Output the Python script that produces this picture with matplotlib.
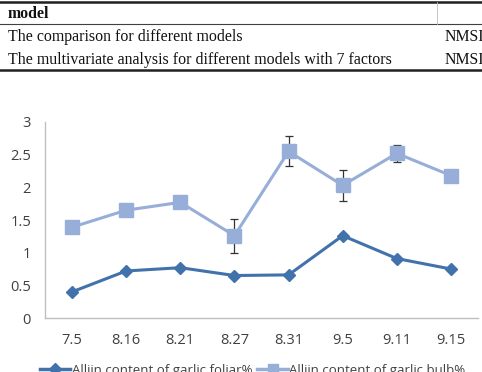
import matplotlib
matplotlib.use("Agg")
import matplotlib.pyplot as plt
from matplotlib.lines import Line2D

# Table text
table_header = "model"
table_rows = ["The comparison for different models",
              "The multivariate analysis for different models with 7 factors"]
table_right = ["NMSI", "NMSI"]

# Chart data
dates = ["7.5", "8.16", "8.21", "8.27", "8.31", "9.5", "9.11", "9.15"]
foliar = [0.40, 0.72, 0.77, 0.65, 0.66, 1.26, 0.91, 0.75]
bulb = [1.39, 1.65, 1.77, 1.26, 2.55, 2.03, 2.52, 2.18]
bulb_err = [0.0, 0.0, 0.0, 0.26, 0.23, 0.24, 0.13, 0.09]
yticks = [0, 0.5, 1, 1.5, 2, 2.5, 3]
ytick_labels = ["0", "0.5", "1", "1.5", "2", "2.5", "3"]
legend_labels = ["Alliin content of garlic foliar%", "Alliin content of garlic bulb%"]

W, H = 482, 372
fig = plt.figure(figsize=(W / 100, H / 100), dpi=100)

def fx(px):
    return px / W

def fy(py):
    return 1 - py / H

# ---- table fragment ----
serif = "Liberation Serif"
fs_t = 11.4
fig.add_artist(Line2D([0, 1], [fy(1.5), fy(1.5)], color="#202020", lw=1.8))
fig.add_artist(Line2D([0, 1], [fy(24), fy(24)], color="#404040", lw=0.8))
fig.add_artist(Line2D([0, 1], [fy(70), fy(70)], color="#202020", lw=1.8))
fig.add_artist(Line2D([fx(437), fx(437)], [fy(2), fy(24)], color="#bbbbbb", lw=0.6))
fig.text(fx(8), fy(14), table_header, family=serif, weight="bold", fontsize=fs_t,
         va="center", ha="left", color="#111111")
for i, t in enumerate(table_rows):
    yy = fy(37 + i * 23)
    fig.text(fx(8), yy, t, family=serif, fontsize=fs_t, va="center", ha="left", color="#111111")
    fig.text(fx(445), yy, table_right[i], family=serif, fontsize=fs_t, va="center", ha="left",
             color="#111111")

# ---- chart ----
ax = fig.add_axes([fx(45), fy(318), fx(478) - fx(45), fy(122) - fy(318)])
x = list(range(len(dates)))
c1 = "#4272AB"
c2 = "#97AFD8"
ax.plot(x, foliar, color=c1, lw=2.2, marker="D", markersize=6.5, markeredgecolor=c1,
        markerfacecolor=c1, zorder=3)
ax.errorbar(x, bulb, yerr=bulb_err, fmt="none", ecolor="#333333", elinewidth=0.9,
            capsize=3, capthick=0.9, zorder=2)
ax.plot(x, bulb, color=c2, lw=2.2, marker="s", markersize=10, markeredgecolor=c2,
        markerfacecolor=c2, zorder=3)

ax.set_xlim(-0.5, len(dates) - 0.5)
ax.set_ylim(0, 3)
ax.set_yticks(yticks)
ax.set_yticklabels(ytick_labels)
ax.set_xticks(x)
ax.set_xticklabels(dates)
for s in ["top", "right"]:
    ax.spines[s].set_visible(False)
for s in ["left", "bottom"]:
    ax.spines[s].set_color("#bfbfbf")
    ax.spines[s].set_linewidth(1.0)
ax.tick_params(length=0, labelsize=10.5, colors="#404040", labelfontfamily="Open Sans")
ax.tick_params(axis="y", pad=10)
ax.tick_params(axis="x", pad=11)
ax.patch.set_alpha(0)

h1 = Line2D([], [], color=c1, lw=2.5, marker="D", markersize=6.5)
h2 = Line2D([], [], color=c2, lw=2.5, marker="s", markersize=7)
fig.legend([h1, h2], legend_labels, loc="center left", bbox_to_anchor=(fx(40), fy(370.5)),
           ncol=2, frameon=False, handlelength=2.3, handletextpad=0.1, columnspacing=0.4,
           prop={"family": "Open Sans", "size": 9.5}, labelcolor="#404040", borderaxespad=0,
           borderpad=0)

fig.savefig("out.png", dpi=100)
